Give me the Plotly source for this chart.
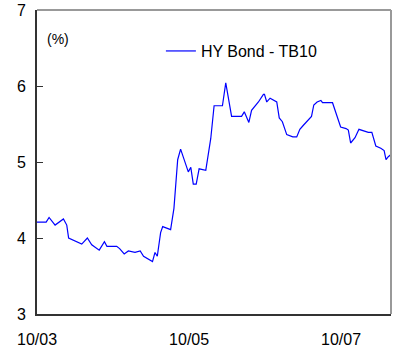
import plotly.graph_objects as go

# HY bond spread over 10y treasury (%)
dates = [
    "2003-10-01", "2003-11-14", "2003-11-28", "2003-12-27", "2004-02-05", "2004-02-21",
    "2004-03-01", "2004-05-03", "2004-05-30", "2004-06-20", "2004-07-26", "2004-08-20",
    "2004-09-01", "2004-10-18", "2004-11-01", "2004-11-23", "2004-12-13", "2005-01-14",
    "2005-02-08", "2005-02-24", "2005-04-08", "2005-04-20", "2005-05-01", "2005-05-17",
    "2005-05-27", "2005-07-04", "2005-07-20", "2005-08-07", "2005-08-21", "2005-09-27",
    "2005-10-09", "2005-10-21", "2005-11-04", "2005-11-18", "2005-12-20", "2006-01-13",
    "2006-01-29", "2006-03-10", "2006-03-26", "2006-04-23", "2006-06-10", "2006-06-23",
    "2006-07-15", "2006-07-28", "2006-08-30", "2006-09-23", "2006-09-28", "2006-10-09",
    "2006-10-25", "2006-11-26", "2006-12-08", "2006-12-23", "2007-01-13", "2007-02-11",
    "2007-03-02", "2007-03-17", "2007-04-02", "2007-05-12", "2007-05-23", "2007-06-08",
    "2007-06-26", "2007-07-04", "2007-08-21", "2007-09-06", "2007-09-29", "2007-10-25",
    "2007-11-05", "2007-11-16", "2007-12-07", "2007-12-26", "2008-01-24", "2008-02-09",
    "2008-02-26", "2008-03-16", "2008-04-09", "2008-04-25", "2008-05-04", "2008-05-15",
    "2008-05-28",
]
spread = [
    4.21, 4.21, 4.27, 4.17, 4.25, 4.17,
    4.00, 3.92, 4.00, 3.91, 3.84, 3.95,
    3.89, 3.89, 3.86, 3.79, 3.83, 3.81,
    3.83, 3.76, 3.69, 3.81, 3.76, 4.07,
    4.15, 4.11, 4.39, 5.03, 5.17, 4.87,
    4.93, 4.71, 4.71, 4.91, 4.89, 5.31,
    5.74, 5.74, 6.04, 5.60, 5.60, 5.66,
    5.52, 5.68, 5.79, 5.89, 5.89, 5.79,
    5.84, 5.79, 5.58, 5.53, 5.36, 5.33,
    5.33, 5.43, 5.48, 5.60, 5.75, 5.79,
    5.81, 5.78, 5.78, 5.64, 5.46, 5.44,
    5.42, 5.25, 5.32, 5.43, 5.40, 5.39,
    5.39, 5.21, 5.18, 5.15, 5.03, 5.07,
    5.10,
]
series_name = "HY Bond - TB10"
x_tickvals = ["2003-10-01", "2005-10-01", "2007-10-01"]
x_ticktext = ["10/03", "10/05", "10/07"]
y_ticks = [3, 4, 5, 6, 7]

font = "Liberation Sans, Arial, sans-serif"

fig = go.Figure()
fig.add_trace(go.Scatter(x=dates, y=spread, mode="lines", name=series_name,
                         line=dict(color="#0000ff", width=1.2)))

fig.update_layout(
    width=393, height=356,
    margin=dict(l=37, r=2, t=10, b=42, autoexpand=False),
    paper_bgcolor="white", plot_bgcolor="white",
    font=dict(family=font, size=16, color="black"),
    showlegend=True,
    legend=dict(x=0.35, y=0.865, xanchor="left", yanchor="middle",
                bgcolor="rgba(0,0,0,0)", font=dict(size=16)),
    xaxis=dict(range=["2003-10-01", "2008-05-28"], tickvals=x_tickvals, ticktext=x_ticktext,
               showgrid=False, zeroline=False, showline=True, linecolor="#333333", linewidth=2,
               ticks="", ticklabelstandoff=10, automargin=False),
    yaxis=dict(range=[3, 7], tickvals=y_ticks, showgrid=False, zeroline=False,
               showline=True, linecolor="#333333", linewidth=2,
               ticks="inside", ticklen=6, tickcolor="#333333", ticklabelstandoff=6,
               automargin=False),
    shapes=[
        dict(type="line", xref="paper", yref="paper", x0=0, x1=1, y0=1, y1=1,
             line=dict(color="#999999", width=2)),
        dict(type="line", xref="paper", yref="paper", x0=1, x1=1, y0=0, y1=1,
             line=dict(color="#999999", width=2)),
    ],
    annotations=[dict(text="(%)", xref="paper", yref="paper", x=0.022, y=0.905,
                      xanchor="left", yanchor="middle", showarrow=False, font=dict(size=14))],
)

# drop the default body margin so the figure sits at the page corner
fig.write_html("out.html", config={"displayModeBar": False},
               post_script="document.body.style.margin='0';")
